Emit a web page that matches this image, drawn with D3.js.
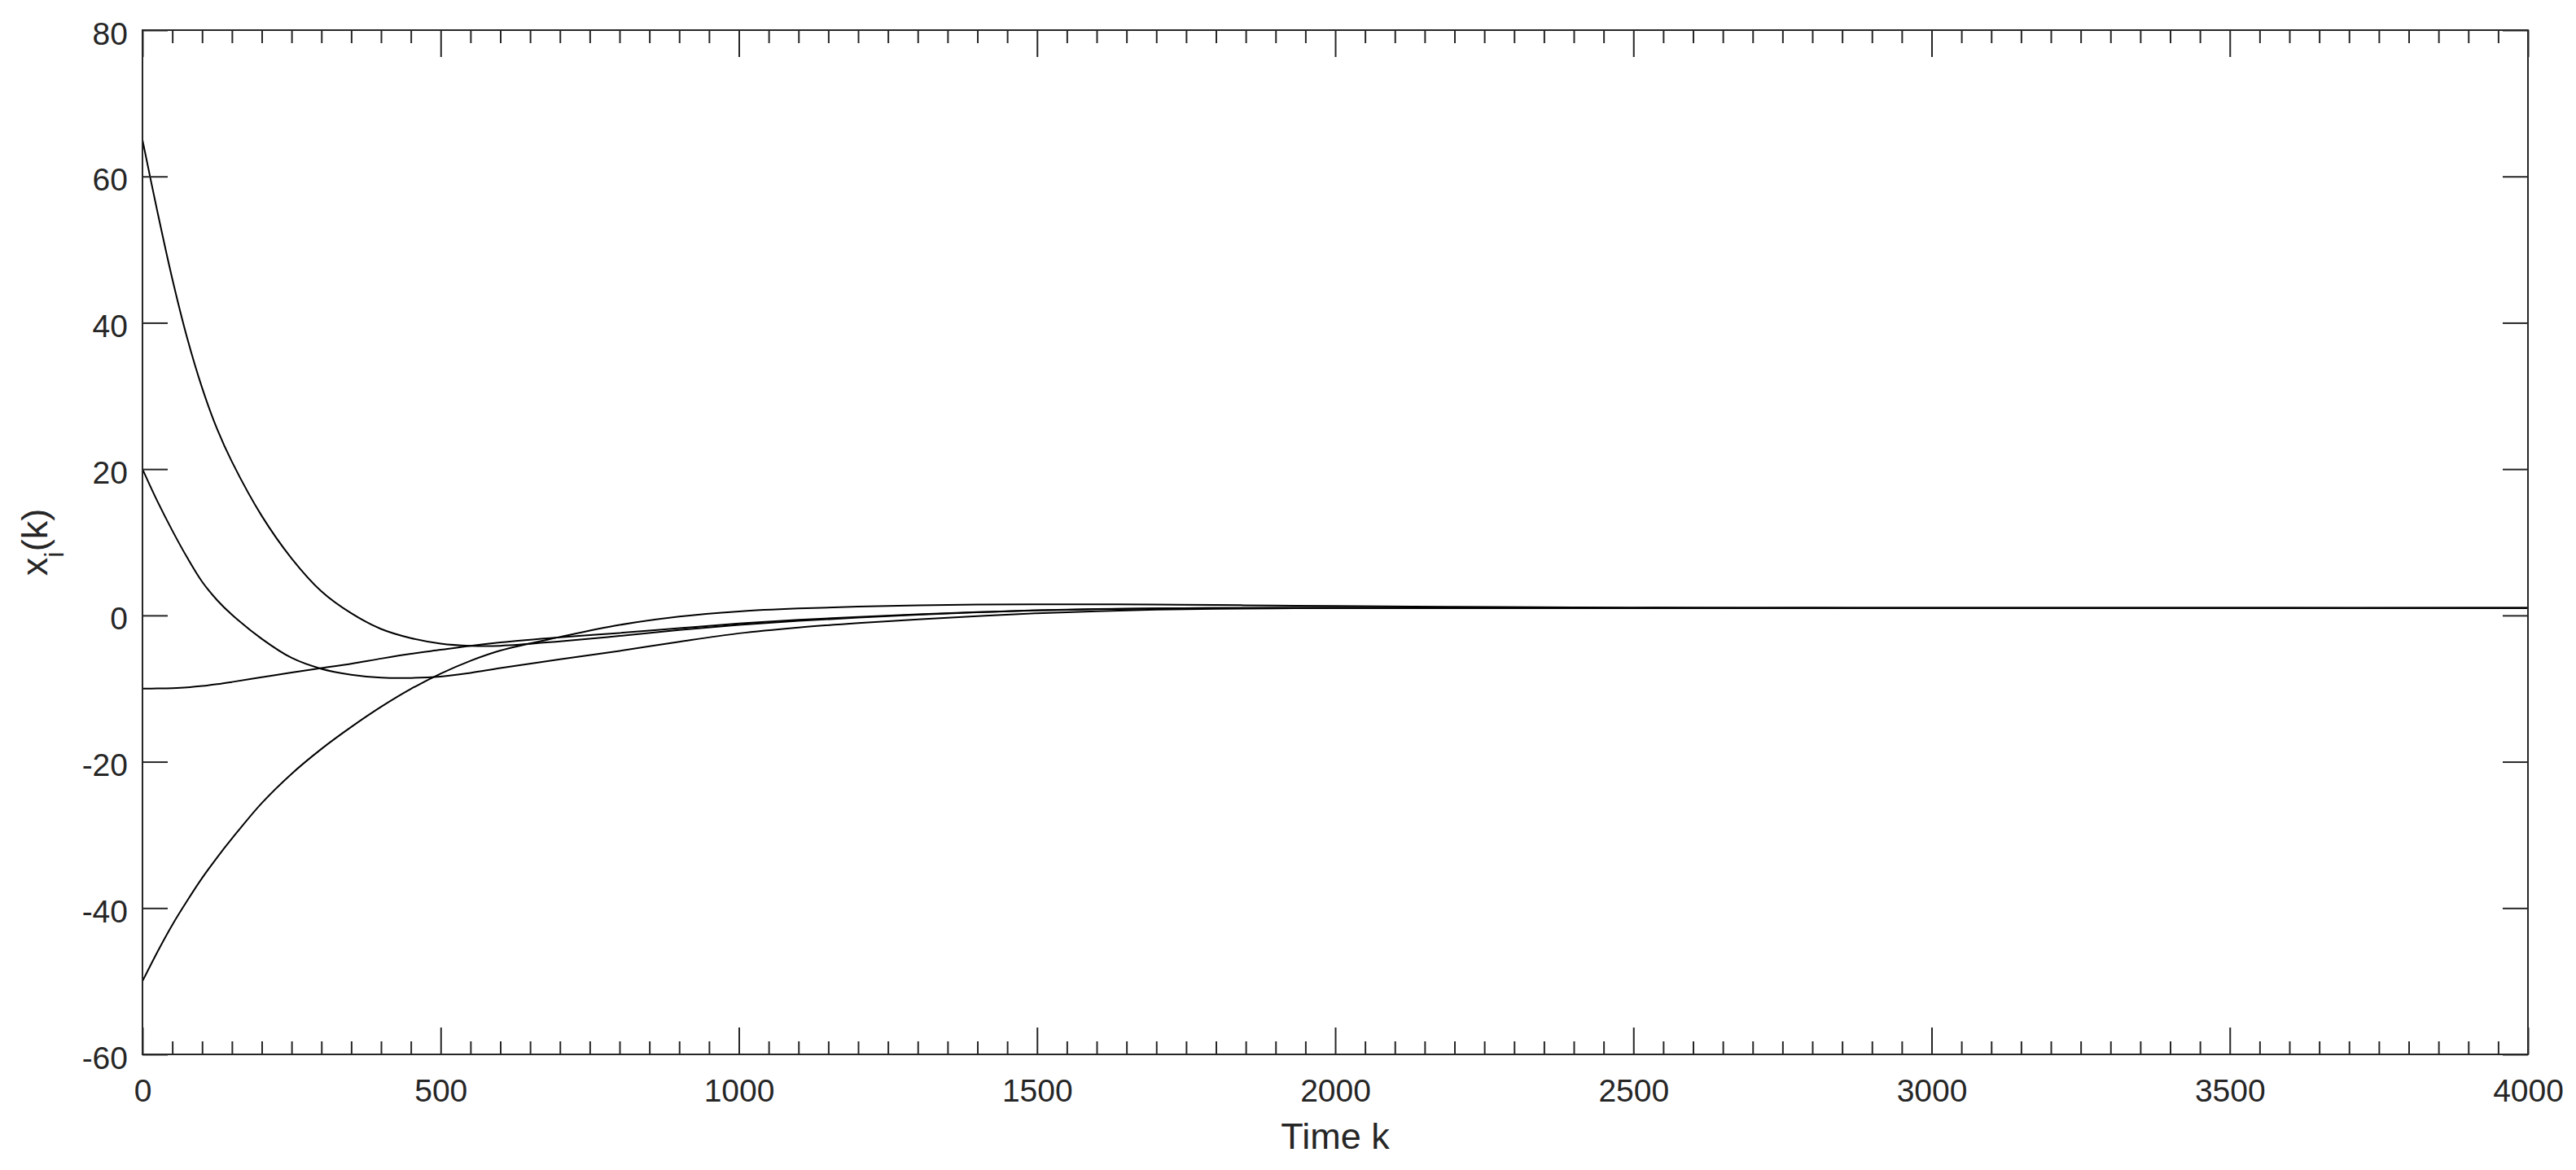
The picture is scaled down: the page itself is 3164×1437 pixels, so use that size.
<!DOCTYPE html>
<html>
<head>
<meta charset="utf-8">
<script src="https://cdn.jsdelivr.net/npm/d3@7/dist/d3.min.js"></script>
<style>
  html, body { margin: 0; padding: 0; background: #ffffff; }
  svg { display: block; }
  text { font-family: "Liberation Sans", Arial, Helvetica, sans-serif; fill: #262626; }
</style>
</head>
<body>
<svg id="chart" width="3164" height="1437"></svg>
<script>
// ---- data ----
const timeK = [0,25,50,75,100,125,150,200,250,300,350,400,450,500,550,600,700,800,900,1000,1100,1200,1300,1400,1500,1600,1700,1800,1900,2000,2200,2400,2600,2800,3000,3500,4000];
const agent1 = [65,55.2,46.0,37.9,31.1,25.5,21.0,13.6,7.8,3.3,0.3,-1.85,-3.1,-3.85,-4.15,-4.15,-3.55,-2.8,-2.0,-1.3,-0.75,-0.3,0.1,0.42,0.68,0.86,0.96,1.01,1.03,1.03,1.02,1.01,1.0,1.0,1.0,1.0,1.0];
const agent2 = [20,15.6,11.6,7.9,4.6,2.1,0.1,-3.2,-5.8,-7.3,-8.1,-8.5,-8.55,-8.35,-7.85,-7.2,-6.0,-4.85,-3.6,-2.45,-1.65,-1.05,-0.55,-0.1,0.3,0.58,0.78,0.9,0.97,1.0,1.01,1.0,1.0,1.0,1.0,1.0,1.0];
const agent3 = [-10,-9.99,-9.95,-9.85,-9.65,-9.4,-9.1,-8.45,-7.8,-7.2,-6.6,-5.9,-5.25,-4.7,-4.15,-3.7,-3.0,-2.4,-1.75,-1.1,-0.6,-0.2,0.15,0.45,0.7,0.87,0.96,1.0,1.02,1.02,1.01,1.0,1.0,1.0,1.0,1.0,1.0];
const agent4 = [-50,-46.0,-42.3,-39.0,-35.9,-33.1,-30.5,-25.65,-21.65,-18.25,-15.25,-12.5,-10.05,-7.95,-6.2,-4.8,-2.95,-1.3,-0.15,0.55,0.95,1.2,1.38,1.48,1.52,1.52,1.48,1.42,1.35,1.28,1.17,1.1,1.05,1.03,1.01,1.0,1.0];
const seriesList = [agent1, agent2, agent3, agent4];
const xTickValues = [0,500,1000,1500,2000,2500,3000,3500,4000];
const xMinorStep = 50;
const yTickValues = [-60,-40,-20,0,20,40,60,80];
const xLabel = "Time k";

// ---- layout ----
const W = 3164, H = 1437;
const margin = {left: 175, right: 59, top: 37, bottom: 142};
const iw = W - margin.left - margin.right;
const ih = H - margin.top - margin.bottom;
const axisColor = "#262626";

const svg = d3.select("#chart");
const g = svg.append("g").attr("transform", `translate(${margin.left},${margin.top})`);

const x = d3.scaleLinear().domain([0, 4000]).range([0, iw]);
const y = d3.scaleLinear().domain([-60, 80]).range([ih, 0]);

svg.append("defs").append("clipPath").attr("id", "clip")
  .append("rect").attr("x", 0).attr("y", 0).attr("width", iw).attr("height", ih);

// curves
const line = d3.line()
  .x(d => x(d[0]))
  .y(d => y(d[1]))
  .curve(d3.curveCatmullRom.alpha(0.5));

const plot = g.append("g").attr("clip-path", "url(#clip)");
seriesList.forEach(vals => {
  plot.append("path")
    .datum(timeK.map((k, i) => [k, vals[i]]))
    .attr("fill", "none")
    .attr("stroke", "#000000")
    .attr("stroke-width", 2)
    .attr("stroke-linejoin", "round")
    .attr("d", line);
});

const plainFormat = d => String(d);

// minor tick values
const xMinor = d3.range(0, 4000 + 1e-9, xMinorStep).filter(v => !xTickValues.includes(v));

function styleAxis(sel) {
  sel.select(".domain").remove();
  sel.selectAll(".tick line").attr("stroke", axisColor).attr("stroke-width", 2);
}

// bottom major (inward ticks)
const bottomMajor = g.append("g").attr("transform", `translate(0,${ih})`)
  .call(d3.axisBottom(x).tickValues(xTickValues).tickSize(-33).tickPadding(0).tickFormat(plainFormat));
styleAxis(bottomMajor);
bottomMajor.selectAll(".tick text")
  .attr("y", 58).attr("dy", null)
  .style("font-size", "39px").attr("fill", axisColor);

// bottom minor
const bottomMinor = g.append("g").attr("transform", `translate(0,${ih})`)
  .call(d3.axisBottom(x).tickValues(xMinor).tickSize(-16).tickFormat(""));
styleAxis(bottomMinor);

// top major & minor
const topMajor = g.append("g")
  .call(d3.axisTop(x).tickValues(xTickValues).tickSize(-33).tickFormat(""));
styleAxis(topMajor);
const topMinor = g.append("g")
  .call(d3.axisTop(x).tickValues(xMinor).tickSize(-16).tickFormat(""));
styleAxis(topMinor);

// left
const leftAxis = g.append("g")
  .call(d3.axisLeft(y).tickValues(yTickValues).tickSize(-31).tickPadding(0).tickFormat(plainFormat));
styleAxis(leftAxis);
leftAxis.selectAll(".tick text")
  .attr("x", -18).attr("dy", "17px")
  .style("font-size", "39px").attr("fill", axisColor);

// right
const rightAxis = g.append("g").attr("transform", `translate(${iw},0)`)
  .call(d3.axisRight(y).tickValues(yTickValues).tickSize(-31).tickFormat(""));
styleAxis(rightAxis);

// frame
g.append("rect")
  .attr("x", 0).attr("y", 0).attr("width", iw).attr("height", ih)
  .attr("fill", "none").attr("stroke", axisColor).attr("stroke-width", 2);

// x label
svg.append("text")
  .attr("x", margin.left + iw / 2)
  .attr("y", 1411)
  .attr("text-anchor", "middle")
  .style("font-size", "45px")
  .attr("fill", axisColor)
  .text(xLabel);

// y label x_i(k)
const yl = svg.append("text")
  .attr("transform", `translate(58,${margin.top + ih / 2}) rotate(-90)`)
  .attr("text-anchor", "middle")
  .style("font-size", "45px")
  .attr("fill", axisColor);
yl.append("tspan").text("x");
yl.append("tspan").attr("dy", 20).style("font-size", "33px").text("i");
yl.append("tspan").attr("dy", -20).text("(k)");
</script>
</body>
</html>
